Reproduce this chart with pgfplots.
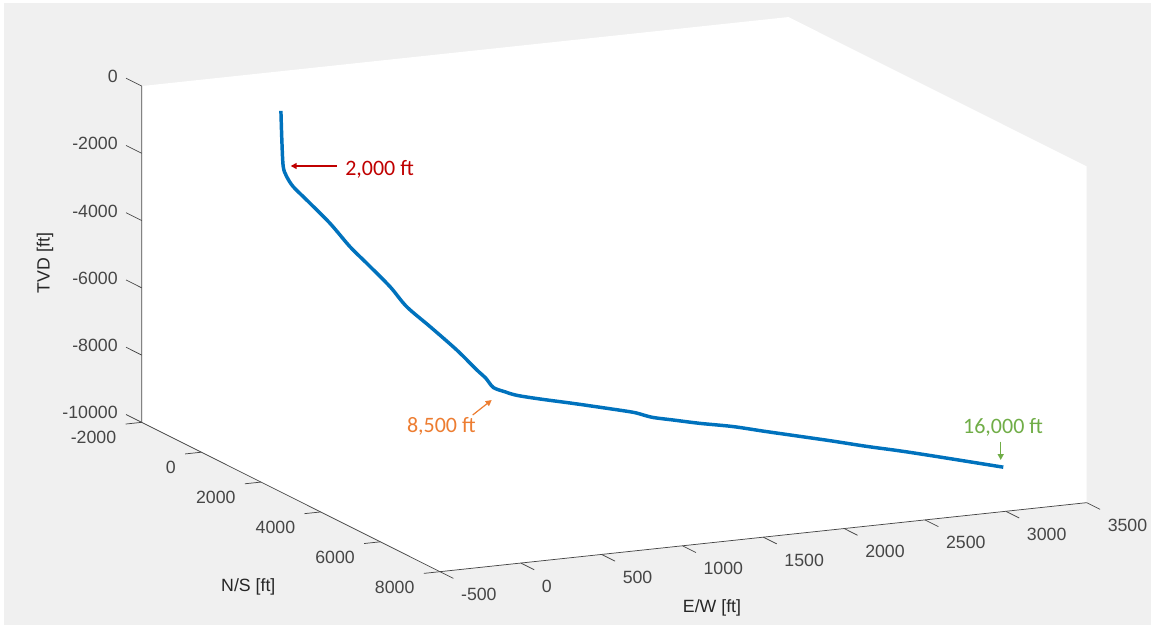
\documentclass[border=0pt]{standalone}
\usepackage{fontspec}
\setmainfont{Liberation Sans}
\newfontfamily\calibri{Carlito}
\usepackage{pgfplots}
\pgfplotsset{compat=1.18}
\usetikzlibrary{arrows.meta}
\pgfdeclarelayer{background}
\pgfsetlayers{background,main}
\definecolor{mlblue}{RGB}{0,114,189}
\definecolor{figgray}{RGB}{240,240,240}
\definecolor{axcol}{RGB}{38,38,38}
\definecolor{axline}{RGB}{70,70,70}
\definecolor{annred}{RGB}{192,0,0}
\definecolor{annorange}{RGB}{237,125,49}
\definecolor{anngreen}{RGB}{112,173,71}
\newcommand{\tickfont}{\fontsize{13.3pt}{16pt}\selectfont\color{axcol}}
\newcommand{\annfont}{\calibri\fontsize{16.5pt}{19pt}\selectfont}
\begin{document}
\begin{tikzpicture}
\begin{axis}[
  hide axis, clip=false,
  x={(0.121253pt,0.012938pt)},
  y={(0.022373pt,-0.011205pt)},
  z={(0pt,0.025223pt)},
  xmin=-500,xmax=3500,ymin=-2000,ymax=8000,zmin=-10000,zmax=0,
]
% axes background (projected box hull)
\fill[white] (axis cs:-500,-2000,0) -- (axis cs:3500,-2000,0) -- (axis cs:3500,8000,0)
  -- (axis cs:3500,8000,-10000) -- (axis cs:-500,8000,-10000) -- (axis cs:-500,-2000,-10000) -- cycle;
% axis lines
\draw[axline, line width=0.55pt] (axis cs:-500,-2000,0) -- (axis cs:-500,-2000,-10000)
  -- (axis cs:-500,8000,-10000) -- (axis cs:3500,8000,-10000);
% z ticks
\pgfplotsinvokeforeach{-10000,-8000,-6000,-4000,-2000,0}{
  \draw[axline, line width=0.55pt] (axis cs:-500,-2000,#1) -- (axis cs:-500,-2526,#1)
    node[anchor=east, inner sep=0pt, xshift=-6pt, yshift=1.3pt, font=\tickfont]{#1};
}
% N/S ticks
\pgfplotsinvokeforeach{-2000,0,2000,4000,6000,8000}{
  \draw[axline, line width=0.55pt] (axis cs:-500,#1,-10000) -- (axis cs:-600,#1,-10000)
    node[anchor=north east, inner sep=0pt, xshift=-6.75pt, yshift=-5.25pt, font=\tickfont]{#1};
}
% E/W ticks
\pgfplotsinvokeforeach{-500,0,500,1000,1500,2000,2500,3000,3500}{
  \draw[axline, line width=0.55pt] (axis cs:#1,8000,-10000) -- (axis cs:#1,8450,-10000)
    node[anchor=north west, inner sep=0pt, xshift=5.5pt, yshift=-7.2pt, font=\tickfont]{#1};
}
% well trajectory: E/W, N/S, TVD
\addplot3[mlblue, line width=2.6pt, line join=round, smooth, tension=0.5] coordinates {
  (-8,0,-100) (-2,0,-1000) (7,-3,-1771) (30,-10,-2084) (73,-26,-2410)
  (162,-57,-2865) (316,-111,-3661) (448,-157,-4445)
  (559,-195,-5012) (713,-249,-5811) (823,-288,-6480) (978,-342,-7177)
  (1154,-404,-7988) (1287,-450,-8671) (1345,-470,-8948) (1396,-488,-9265)
  (1473,-515,-9445)
  (1516,-355,-9500) (1601,-37,-9512) (1723,417,-9505) (1846,874,-9509)
  (1943,1236,-9518) (1980,1373,-9555) (2017,1509,-9590) (2090,1783,-9580)
  (2188,2147,-9568) (2310,2601,-9525) (2432,3058,-9534) (2652,3877,-9538)
  (2799,4423,-9555) (2921,4877,-9550) (3043,5332,-9562) (3300,6289,-9602)
};
\coordinate (O) at (axis cs:0,0,0);
\end{axis}
\begin{scope}[x=0.75pt, y=-0.75pt, shift={(O)}, shift={(-282.2,-107.3)}]
\begin{pgfonlayer}{background}
\fill[white] (0,0) rectangle (1151,626);
\fill[figgray] (4,3) rectangle (1151,625);
\end{pgfonlayer}
% axis titles
\node[rotate=90, inner sep=0pt, font=\tickfont] at (45,263) {TVD [ft]};
\node[inner sep=0pt, font=\tickfont] at (248.3,587.3) {N/S [ft]};
\node[inner sep=0pt, font=\tickfont] at (712,608.3) {E/W [ft]};
% annotations
\draw[annred, line width=1.1pt, -{Triangle[length=4.5pt,width=4.5pt]}] (336.7,166) -- (290.7,166);
\node[anchor=base west, inner sep=0pt, text=annred, font=\annfont] at (345,175) {2,000 ft};
\draw[annorange, line width=0.9pt, -{Triangle[length=4.5pt,width=4.5pt]}] (472.7,415) -- (491.7,400);
\node[anchor=base, inner sep=0pt, text=annorange, font=\annfont] at (441.3,432.7) {8,500 ft};
\draw[anngreen, line width=1.1pt, -{Triangle[length=4.5pt,width=4.5pt]}] (1000.7,441.7) -- (1000.7,460);
\node[anchor=base, inner sep=0pt, text=anngreen, font=\annfont] at (1003,433.3) {16,000 ft};
\end{scope}
\end{tikzpicture}
\end{document}
